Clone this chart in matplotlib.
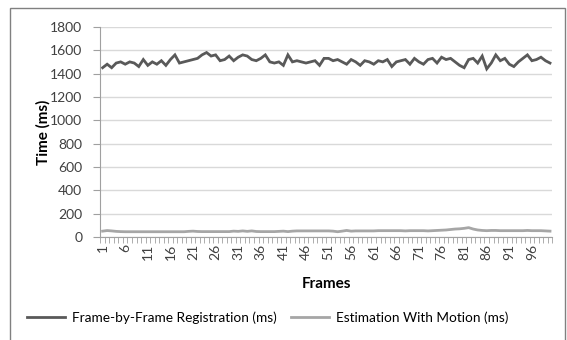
import matplotlib
matplotlib.use("Agg")
import matplotlib.pyplot as plt
from matplotlib.patches import Rectangle
from matplotlib.ticker import FixedLocator, MultipleLocator

plt.rcParams["font.family"] = ["Lato", "DejaVu Sans"]

# frame times for each of the 100 frames
frames = list(range(1, 101))
registration_ms = [
    1450, 1480, 1450, 1490, 1500, 1480, 1500, 1490, 1460, 1520,
    1470, 1500, 1480, 1510, 1470, 1520, 1560, 1490, 1500, 1510,
    1520, 1530, 1560, 1580, 1550, 1560, 1510, 1520, 1550, 1510,
    1540, 1560, 1550, 1520, 1510, 1530, 1560, 1500, 1490, 1500,
    1470, 1560, 1500, 1510, 1500, 1490, 1500, 1510, 1470, 1530,
    1530, 1510, 1520, 1500, 1480, 1520, 1500, 1470, 1510, 1500,
    1480, 1510, 1500, 1520, 1460, 1500, 1510, 1520, 1480, 1530,
    1500, 1480, 1520, 1530, 1490, 1540, 1520, 1530, 1500, 1470,
    1450, 1520, 1530, 1490, 1550, 1440, 1490, 1560, 1510, 1530,
    1480, 1460, 1500, 1530, 1560, 1510, 1520, 1540, 1510, 1490,
]
motion_ms = [
    50, 55, 52, 48, 46, 45, 45, 45, 45, 45,
    45, 45, 45, 45, 45, 45, 45, 45, 45, 48,
    50, 47, 46, 46, 46, 46, 46, 46, 46, 50,
    48, 52, 48, 52, 47, 46, 46, 46, 46, 48,
    50, 46, 50, 52, 52, 52, 52, 52, 52, 52,
    52, 50, 45, 50, 56, 50, 52, 52, 52, 52,
    52, 54, 54, 54, 54, 54, 54, 52, 54, 54,
    54, 54, 52, 54, 56, 58, 60, 64, 68, 70,
    74, 80, 68, 60, 56, 54, 56, 56, 54, 54,
    54, 54, 54, 54, 56, 54, 54, 54, 52, 50,
]
tick_labels = [str(f) for f in frames[::5]]

fig = plt.figure(figsize=(5.67, 3.4), dpi=100)
ax = fig.add_axes([0.177, 0.303, 0.797, 0.618])

ax.plot(frames, registration_ms, color="#595959", lw=2.0,
        label="Frame-by-Frame Registration (ms)", solid_joinstyle="miter")
ax.plot(frames, motion_ms, color="#A6A6A6", lw=2.0,
        label="Estimation With Motion (ms)")

ax.set_xlim(0.5, 100.5)
ax.set_ylim(0, 1800)
ax.set_yticks(range(0, 1801, 200))
ax.yaxis.grid(True, color="#D9D9D9", lw=1.0)
ax.set_axisbelow(True)

ax.xaxis.set_major_locator(FixedLocator(frames[::5]))
ax.set_xticklabels(tick_labels, rotation=90)
ax.xaxis.set_minor_locator(MultipleLocator(1, offset=0.5))
ax.tick_params(axis="x", which="major", length=0, labelsize=10, pad=5,
               colors="#404040")
ax.tick_params(axis="x", which="minor", length=4, color="#A0A0A0")
ax.tick_params(axis="y", length=5, labelsize=10, colors="#404040",
               color="#A0A0A0", pad=8)

for side in ("top", "right"):
    ax.spines[side].set_visible(False)
for side in ("left", "bottom"):
    ax.spines[side].set_color("#A0A0A0")

ax.set_xlabel("Frames", fontsize=11, fontweight="bold", labelpad=12)
ax.set_ylabel("Time (ms)", fontsize=11, fontweight="bold")
ax.yaxis.set_label_coords(-0.11, 0.5)

fig.legend(loc="center", bbox_to_anchor=(0.472, 0.065), ncol=2, frameon=False,
           fontsize=9.8, handlelength=2.8, columnspacing=1.0,
           handletextpad=0.5)

# outer chart border
fig.patches.append(Rectangle((10 / 567, -0.1), 555 / 567, 1.1 - 8 / 340,
                             transform=fig.transFigure, fill=False,
                             edgecolor="#808080", lw=1.0))

fig.savefig("out.png", dpi=100)
